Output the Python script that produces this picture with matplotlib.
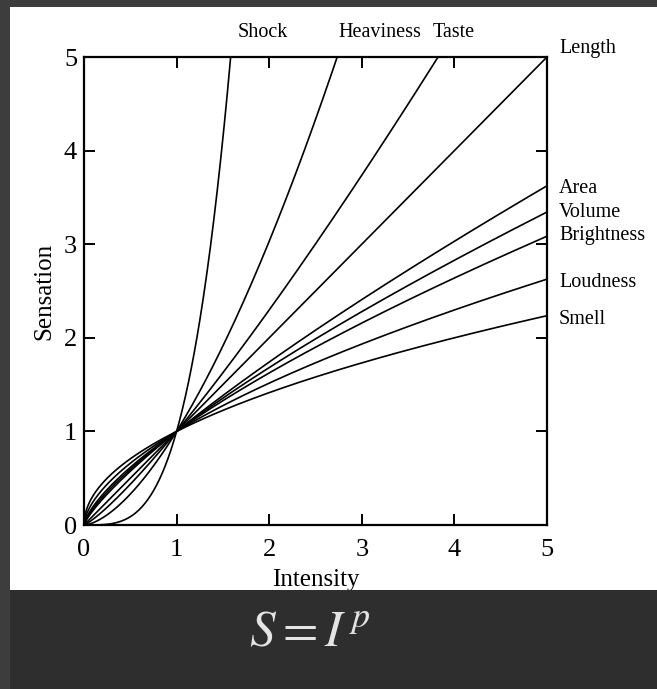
import numpy as np
import matplotlib
matplotlib.use("Agg")
import matplotlib.pyplot as plt
from matplotlib.patches import Rectangle

# Stevens' power law exponents
names = ["Shock", "Heaviness", "Taste", "Length", "Area", "Volume",
         "Brightness", "Loudness", "Smell"]
exponents = [3.5, 1.6, 1.2, 1.0, 0.8, 0.75, 0.7, 0.6, 0.5]
ticks = [0, 1, 2, 3, 4, 5]

plt.rcParams["font.family"] = ["Liberation Serif", "DejaVu Serif"]
plt.rcParams["mathtext.fontset"] = "stix"

W, H = 657, 689
fig = plt.figure(figsize=(W / 100, H / 100), dpi=100)
fig.patch.set_facecolor("#3d3d3d")

# white page and dark caption band
fig.add_artist(Rectangle((10 / W, 99 / H), 1 - 10 / W, (590 - 7) / H,
                         transform=fig.transFigure, facecolor="white",
                         edgecolor="none", zorder=-1))
fig.add_artist(Rectangle((10 / W, 0), 1 - 10 / W, 99 / H,
                         transform=fig.transFigure, facecolor="#2e2e2e",
                         edgecolor="none", zorder=5))
fig.text(310 / W, 1 - 634 / H, r"$S = I^{\,p}$", color="#e4e4e4",
         fontsize=37, ha="center", va="center", zorder=6)

ax = fig.add_axes([84 / W, 1 - 525 / H, (547 - 84) / W, (525 - 57) / H])
ax.set_facecolor("none")

I = np.linspace(0, 5, 800)
for p in exponents:
    ax.plot(I, I ** p, color="black", lw=1.2)

ax.set_xlim(0, 5)
ax.set_ylim(0, 5)
ax.set_xticks(ticks)
ax.set_yticks(ticks)
ax.tick_params(direction="in", length=8, width=1.4, labelsize=19,
               top=True, right=True)
ax.tick_params(axis="x", pad=10)
ax.tick_params(axis="y", pad=5)
for s in ax.spines.values():
    s.set_linewidth(1.6)

ax.set_xlabel("Intensity", fontsize=18, labelpad=6)
ax.set_ylabel("Sensation", fontsize=18, labelpad=6)

# curve labels
lab_x = 5.13
fs = 14.5
ax.text(1.93, 5.26, "Shock", fontsize=fs, ha="center", va="center", clip_on=False)
ax.text(2.75, 5.26, "Heaviness", fontsize=fs, ha="left", va="center", clip_on=False)
ax.text(3.77, 5.26, "Taste", fontsize=fs, ha="left", va="center", clip_on=False)
ax.text(lab_x, 5.09, "Length", fontsize=fs, ha="left", va="center", clip_on=False)
side_y = [3.59, 3.34, 3.09, 2.59, 2.2]
for name, y in zip(names[4:], side_y):
    ax.text(lab_x, y, name, fontsize=fs, ha="left", va="center", clip_on=False)

fig.savefig("out.png", dpi=100)
